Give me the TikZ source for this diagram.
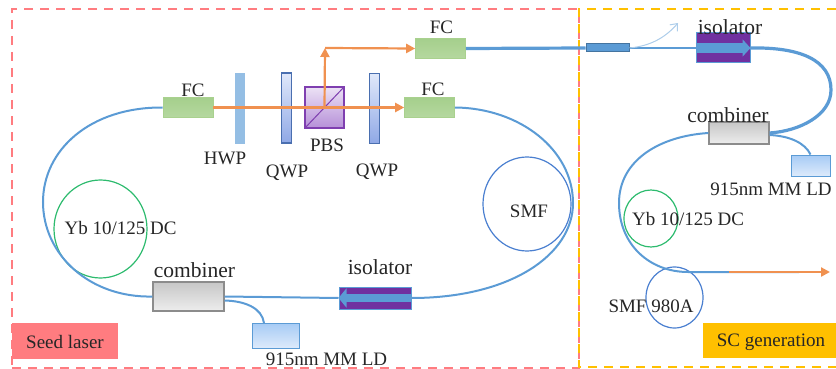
\documentclass[tikz,border=0pt]{standalone}
\usepackage{fontspec}
\setmainfont{Liberation Serif}
\usetikzlibrary{arrows.meta,shapes.geometric}
\definecolor{fibercol}{HTML}{5B9BD5}
\definecolor{beamcol}{HTML}{ED7D31}
\definecolor{pinkcol}{HTML}{FF7C80}
\definecolor{goldcol}{HTML}{FFC000}
\definecolor{textcol}{HTML}{262626}
\definecolor{fcedge}{HTML}{A9D18E}
\definecolor{fctop}{HTML}{A5CF8C}
\definecolor{fcbot}{HTML}{B5D8A0}
\definecolor{qwpedge}{HTML}{4A6FB0}
\definecolor{qwptop}{HTML}{E0E8FA}
\definecolor{qwpbot}{HTML}{8FA8E6}
\definecolor{pbsedge}{HTML}{7F3FB0}
\definecolor{pbstop}{HTML}{ECE2F5}
\definecolor{pbsbot}{HTML}{B690D8}
\definecolor{isocol}{HTML}{7030A0}
\definecolor{pumptop}{HTML}{A6CBF5}
\definecolor{pumpbot}{HTML}{DDEAFB}
\definecolor{ybcol}{HTML}{2DBB6E}
\definecolor{smfcol}{HTML}{4A7FD0}
\tikzstyle{every node}+=[inner sep=0pt,text=textcol,font=\fontsize{19}{21}\selectfont]
\tikzstyle{fiber}=[fibercol,line width=2pt]
\tikzstyle{fiber2}=[fibercol,line width=3.2pt]
\tikzstyle{beam}=[beamcol!85,line width=2.2pt,-{Triangle[length=9pt,width=9pt]}]
\tikzstyle{frame}=[dash pattern=on 9pt off 7pt,line width=1.6pt]
\tikzstyle{fc}=[draw=fcedge,line width=0.6pt,top color=fctop,bottom color=fcbot,minimum width=50pt,minimum height=20pt]
\tikzstyle{qwp}=[draw=qwpedge,line width=1.2pt,top color=qwptop,bottom color=qwpbot,minimum width=10pt,minimum height=70pt]
\tikzstyle{isolator}=[draw=fibercol,line width=1pt,fill=isocol,minimum width=72pt,minimum height=22pt]
\tikzstyle{combiner}=[draw=black!45,line width=1.2pt,top color=black!22,bottom color=black!7,minimum width=71pt,minimum height=29pt]
\tikzstyle{pump}=[draw=fibercol,line width=1pt,top color=pumptop,bottom color=pumpbot,minimum width=47pt,minimum height=25pt]
\tikzstyle{ybcoil}=[draw=ybcol,ellipse,line width=1.2pt]
\tikzstyle{smfcoil}=[draw=smfcol,ellipse,line width=1.2pt]
\tikzstyle{tag}=[minimum height=36pt]
\tikzstyle{biglabel}=[font=\fontsize{21.5}{23}\selectfont]
\tikzstyle{isoarrow}=[fibercol,line width=8pt,-{Triangle[length=8pt,width=19pt]}]
\newcommand{\drawfibers}[2][\empty]{
	\foreach \a/\b in {#2}{
		\draw[#1] (\a) edge (\b);
	}
}

\begin{document}
\begin{tikzpicture}[x=1pt,y=-1pt]
\useasboundingbox (0,0) rectangle (836,369);
% region frames
\node[frame,draw=pinkcol,minimum width=567pt,minimum height=359pt] (seedframe) at (295.5,188.5) {};
\draw[frame,goldcol] (836,9) -- (579,9) -- (579,367) -- (836,367);
\node[tag,fill=pinkcol,minimum width=106pt] (seedtag) at (65,341) {};
\node (seedlab) at (65,342) {Seed laser};
\node[tag,fill=goldcol,minimum width=133pt,minimum height=35pt] (sctag) at (769.5,340.5) {};
\node (sclab) at (771,342) {SC generation};

% free space part
\node[fc] (fc1) at (188,107.5) {};
\node[fc] (fc2) at (429.5,107.5) {};
\node[fc] (fc3) at (440.5,48.5) {};
\node (fc1lab) at (193,90) {FC};
\node (fc2lab) at (433,89) {FC};
\node (fc3lab) at (441.5,27) {FC};
\node[fill=fibercol!65,minimum width=10pt,minimum height=71pt] (hwp) at (240,108.5) {};
\node[qwp] (qwp1) at (286.5,108) {};
\node[qwp] (qwp2) at (374.5,108.5) {};
\node[draw=pbsedge,line width=1.2pt,top color=pbstop,bottom color=pbsbot,minimum width=39pt,minimum height=41pt] (pbs) at (324.5,107.5) {};
\draw[pbsedge,line width=1pt] (pbs.south west) -- (pbs.north east);
\node (hwplab) at (225,158) {HWP};
\node (qwp1lab) at (287,173) {QWP};
\node (qwp2lab) at (377,172) {QWP};
\node (pbslab) at (327,145) {PBS};
\coordinate (pbsup) at (325,48);
\draw[beam] (fc1.east) -- (fc2.west);
\draw[beam] (pbs.center) -- (pbsup);
\draw[beam] (pbsup) -- (fc3.west);

% seed cavity
\node[combiner] (comb1) at (188.5,296.5) {};
\node[isolator] (iso1) at (375,298) {};
\node[pump] (ld1) at (275.5,335.5) {};
\node[ybcoil,minimum width=93pt,minimum height=98pt] (yb1) at (100.5,229) {};
\node[smfcoil,minimum width=88pt,minimum height=94pt] (smf1) at (527,204) {};
\node (yb1lab) at (120.5,228) {Yb 10/125 DC};
\node (smf1lab) at (529,211) {SMF};
\node[biglabel] (comb1lab) at (194.5,270) {combiner};
\node[biglabel] (iso1lab) at (380,267) {isolator};
\node (ld1lab) at (326.5,359.5) {915nm MM LD};
\coordinate (leftpt) at (43,202);
\coordinate (rightpt) at (573,203);
\coordinate (ld1in) at (264,323);
\draw[fiber] (fc1.west) .. controls (90,107) and (43,150) .. (leftpt) .. controls (43,255) and (90,298) .. (comb1.west);
\draw[fiber] (iso1.east) .. controls (510,298) and (573,255) .. (rightpt) .. controls (573,150) and (520,108) .. (fc2.east);
\draw[fiber] (comb1.east) ++(0,4) .. controls (245,301) and (262,308) .. (ld1in);
\drawfibers[fiber]{comb1.east/iso1.west}
\draw[isoarrow] (iso1.east) -- (iso1.west);

% SC generation part
\node[draw=fibercol!75!black,fill=fibercol,line width=1pt,minimum width=43pt,minimum height=8pt] (cpl) at (607.5,48) {};
\node[isolator,minimum width=54pt,minimum height=30pt] (iso2) at (723,48) {};
\node[combiner,minimum width=60pt,minimum height=22pt] (comb2) at (739,133) {};
\node[pump,minimum width=39pt,minimum height=21pt] (ld2) at (810.5,165.5) {};
\node[ybcoil,minimum width=54pt,minimum height=57pt] (yb2) at (651,218.5) {};
\node[smfcoil,minimum width=57pt,minimum height=61pt] (smf2) at (674.5,297.5) {};
\node[biglabel] (iso2lab) at (730,27) {isolator};
\node[biglabel] (comb2lab) at (728,115) {combiner};
\node (ld2lab) at (771,189) {915nm MM LD};
\node (yb2lab) at (688,219) {Yb 10/125 DC};
\node (smf2lab) at (651,306) {SMF 980A};
\coordinate (sctop) at (831,90);
\coordinate (scleft) at (619,203);
\coordinate (scend) at (799,272);
\coordinate (scout) at (830,272);
\coordinate (scbeam) at (729,272);
\coordinate (taptip) at (678,23);
\draw[fiber2] (fc3.east) -- (cpl.west);
\drawfibers[fiber]{cpl.east/iso2.west}
\draw[fiber2] (iso2.east) .. controls (800,47) and (831,60) .. (sctop) .. controls (831,115) and (800,131) .. (comb2.east);
\draw[fiber] (comb2.west) .. controls (660,136) and (619,160) .. (scleft) .. controls (619,245) and (650,272) .. (688,272) -- (scend);
\draw[fiber] (comb2.east) ++(0,2) .. controls (790,136) and (805,143) .. (ld2.north);
\draw[fibercol!50,line width=1pt,-{Straight Barb[length=6pt,width=10pt]}] (cpl.east) .. controls (650,46) and (665,38) .. (taptip);
\draw[beam] (scbeam) -- (scout);
\draw[isoarrow,line width=10pt,-{Triangle[length=8pt,width=17pt]}] (iso2.west) -- (iso2.east);
\end{tikzpicture}
\end{document}
